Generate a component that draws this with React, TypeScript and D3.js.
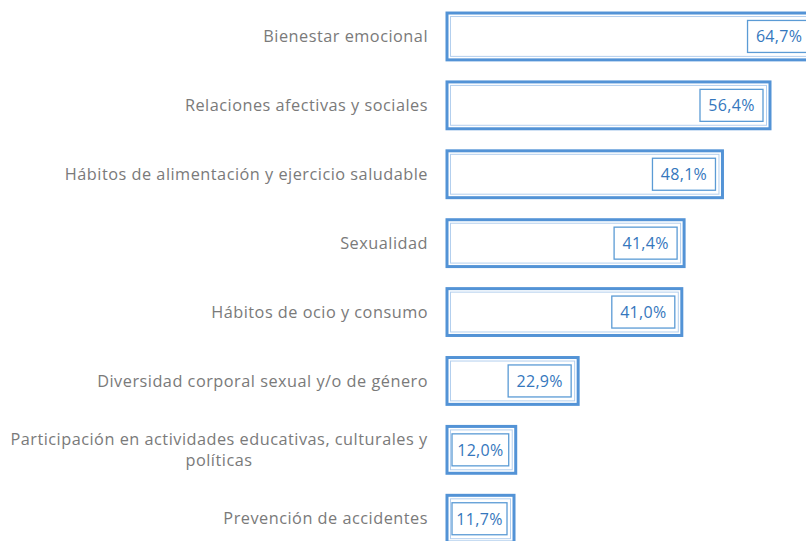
import React, { useEffect, useRef } from 'react';
import * as d3 from 'd3';

// Chart data
const categories = [
  'Bienestar emocional',
  'Relaciones afectivas y sociales',
  'Hábitos de alimentación y ejercicio saludable',
  'Sexualidad',
  'Hábitos de ocio y consumo',
  'Diversidad corporal sexual y/o de género',
  'Participación en actividades educativas, culturales y|políticas',
  'Prevención de accidentes',
];
const values = [64.7, 56.4, 48.1, 41.4, 41.0, 22.9, 12.0, 11.7];
const valueLabels = ['64,7%', '56,4%', '48,1%', '41,4%', '41,0%', '22,9%', '12,0%', '11,7%'];

function App() {
  const ref = useRef<SVGSVGElement>(null);

  useEffect(() => {
    const width = 806;
    const height = 541;
    const left = 447;
    const font = '"Open Sans", "Noto Sans", sans-serif';

    const svg = d3.select(ref.current);
    svg.selectAll('*').remove();

    // value scale: 56,4% ends near x=770
    const x = d3.scaleLinear().domain([0, 56.4]).range([left, 770]);

    const y = d3.scaleBand<number>()
      .domain(d3.range(categories.length))
      .range([2, 2 + 8 * 68.9])
      .paddingInner(0.32)
      .paddingOuter(0.16);

    const bh = y.bandwidth();

    const rows = svg.selectAll('g.row')
      .data(values)
      .enter().append('g')
      .attr('class', 'row');

    // outer bar outline
    rows.append('rect')
      .attr('x', left)
      .attr('y', (d, i) => y(i)!)
      .attr('width', d => x(d) - left)
      .attr('height', bh)
      .attr('fill', '#fff')
      .attr('stroke', '#5393d6')
      .attr('stroke-width', 3);

    // inner thin line
    rows.append('rect')
      .attr('x', left + 3.5)
      .attr('y', (d, i) => y(i)! + 3.5)
      .attr('width', d => x(d) - left - 7)
      .attr('height', bh - 7)
      .attr('fill', 'none')
      .attr('stroke', '#b3cfee')
      .attr('stroke-width', 1);

    // value label boxes (clamped to the bar's left edge for short bars)
    const boxW = 63;
    const boxH = 32;
    const boxX = (d: number) => Math.max(left + 5, x(d) - 7 - boxW);
    const boxWidth = (d: number) => Math.min(boxW, x(d) - 7 - boxX(d));

    rows.append('rect')
      .attr('x', d => boxX(d))
      .attr('y', (d, i) => y(i)! + bh / 2 - boxH / 2)
      .attr('width', d => boxWidth(d))
      .attr('height', boxH)
      .attr('fill', '#fff')
      .attr('stroke', '#5b9bd5')
      .attr('stroke-width', 1.3);

    rows.append('text')
      .attr('x', d => boxX(d) + boxWidth(d) / 2)
      .attr('y', (d, i) => y(i)! + bh / 2)
      .attr('dy', '0.36em')
      .attr('text-anchor', 'middle')
      .attr('font-family', font)
      .attr('font-size', 16)
      .attr('letter-spacing', 0.3)
      .attr('fill', '#3577bd')
      .text((d, i) => valueLabels[i]);

    // category labels, right aligned (wrapped label is centered as a block)
    categories.forEach((c, i) => {
      const lines = c.split('|');
      const cy = y(i)! + bh / 2;
      const t = svg.append('text')
        .attr('font-family', font)
        .attr('font-size', 16.3)
        .attr('letter-spacing', 0.5)
        .attr('fill', '#7a7a7a');
      if (lines.length === 1) {
        t.attr('x', 428).attr('y', cy).attr('dy', '0.35em')
          .attr('text-anchor', 'end').text(c);
      } else {
        const lh = 21;
        lines.forEach((ln, j) => {
          t.append('tspan')
            .attr('x', 219)
            .attr('y', cy + (j - (lines.length - 1) / 2) * lh)
            .attr('dy', '0.35em')
            .attr('text-anchor', 'middle')
            .text(ln);
        });
      }
    });

    svg.attr('width', width).attr('height', height);
  }, []);

  return (
    <svg
      ref={ref}
      width={806}
      height={541}
      style={{ position: 'absolute', left: 0, top: 0, background: '#fff' }}
    />
  );
}

export default App;
